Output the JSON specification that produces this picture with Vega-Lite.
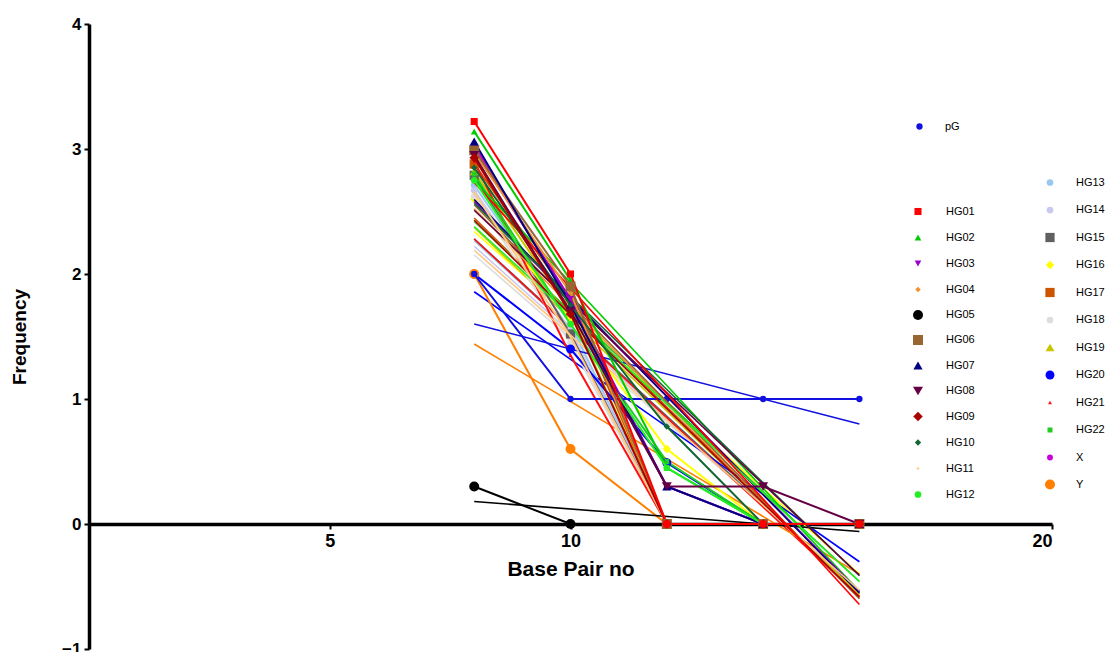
{
  "$schema": "https://vega.github.io/schema/vega-lite/v6.json",
  "width": 963,
  "height": 625,
  "autosize": "none",
  "padding": {"left": 89, "top": 24, "right": 53, "bottom": 3},
  "config": {
    "view": {"stroke": null},
    "font": "Liberation Sans",
    "legend": {"title": null, "padding": 0, "labelFontSize": 11, "labelFont": "Liberation Sans Narrow, Liberation Sans", "labelColor": "black", "labelOffset": 20}
  },
  "datasets": {
    "d": [
      {"s": "pG", "x": 8, "y": 2}, {"s": "pG", "x": 10, "y": 1}, {"s": "pG", "x": 12, "y": 1}, {"s": "pG", "x": 14, "y": 1}, {"s": "pG", "x": 16, "y": 1},
      {"s": "HG02", "x": 8, "y": 3.14}, {"s": "HG02", "x": 10, "y": 1.95}, {"s": "HG02", "x": 12, "y": 0.45}, {"s": "HG02", "x": 14, "y": 0}, {"s": "HG02", "x": 16, "y": 0},
      {"s": "HG03", "x": 8, "y": 3.0}, {"s": "HG03", "x": 10, "y": 1.8}, {"s": "HG03", "x": 12, "y": 0.3}, {"s": "HG03", "x": 14, "y": 0}, {"s": "HG03", "x": 16, "y": 0},
      {"s": "HG04", "x": 8, "y": 2.97}, {"s": "HG04", "x": 10, "y": 1.85}, {"s": "HG04", "x": 12, "y": 0}, {"s": "HG04", "x": 14, "y": 0}, {"s": "HG04", "x": 16, "y": 0},
      {"s": "HG05", "x": 8, "y": 0.3}, {"s": "HG05", "x": 10, "y": 0}, {"s": "HG05", "x": 12, "y": 0}, {"s": "HG05", "x": 14, "y": 0}, {"s": "HG05", "x": 16, "y": 0},
      {"s": "HG06", "x": 8, "y": 2.99}, {"s": "HG06", "x": 10, "y": 1.9}, {"s": "HG06", "x": 12, "y": 0}, {"s": "HG06", "x": 14, "y": 0}, {"s": "HG06", "x": 16, "y": 0},
      {"s": "HG07", "x": 8, "y": 3.06}, {"s": "HG07", "x": 10, "y": 1.75}, {"s": "HG07", "x": 12, "y": 0.3}, {"s": "HG07", "x": 14, "y": 0}, {"s": "HG07", "x": 16, "y": 0},
      {"s": "HG10", "x": 8, "y": 2.85}, {"s": "HG10", "x": 10, "y": 1.75}, {"s": "HG10", "x": 12, "y": 0.78}, {"s": "HG10", "x": 14, "y": 0}, {"s": "HG10", "x": 16, "y": 0},
      {"s": "HG11", "x": 8, "y": 2.65}, {"s": "HG11", "x": 10, "y": 1.5}, {"s": "HG11", "x": 12, "y": 0}, {"s": "HG11", "x": 14, "y": 0}, {"s": "HG11", "x": 16, "y": 0},
      {"s": "HG12", "x": 8, "y": 2.75}, {"s": "HG12", "x": 10, "y": 1.6}, {"s": "HG12", "x": 12, "y": 0.45}, {"s": "HG12", "x": 14, "y": 0}, {"s": "HG12", "x": 16, "y": 0},
      {"s": "HG13", "x": 8, "y": 2.71}, {"s": "HG13", "x": 10, "y": 1.6}, {"s": "HG13", "x": 12, "y": 0}, {"s": "HG13", "x": 14, "y": 0}, {"s": "HG13", "x": 16, "y": 0},
      {"s": "HG14", "x": 8, "y": 2.67}, {"s": "HG14", "x": 10, "y": 1.55}, {"s": "HG14", "x": 12, "y": 0}, {"s": "HG14", "x": 14, "y": 0}, {"s": "HG14", "x": 16, "y": 0},
      {"s": "HG15", "x": 8, "y": 2.79}, {"s": "HG15", "x": 10, "y": 1.52}, {"s": "HG15", "x": 12, "y": 0}, {"s": "HG15", "x": 14, "y": 0}, {"s": "HG15", "x": 16, "y": 0},
      {"s": "HG16", "x": 8, "y": 2.6}, {"s": "HG16", "x": 10, "y": 1.65}, {"s": "HG16", "x": 12, "y": 0.6}, {"s": "HG16", "x": 14, "y": 0}, {"s": "HG16", "x": 16, "y": 0},
      {"s": "HG17", "x": 8, "y": 2.88}, {"s": "HG17", "x": 10, "y": 1.8}, {"s": "HG17", "x": 12, "y": 0}, {"s": "HG17", "x": 14, "y": 0}, {"s": "HG17", "x": 16, "y": 0},
      {"s": "HG18", "x": 8, "y": 2.62}, {"s": "HG18", "x": 10, "y": 1.45}, {"s": "HG18", "x": 12, "y": 0}, {"s": "HG18", "x": 14, "y": 0}, {"s": "HG18", "x": 16, "y": 0},
      {"s": "HG19", "x": 8, "y": 2.82}, {"s": "HG19", "x": 10, "y": 1.7}, {"s": "HG19", "x": 12, "y": 0}, {"s": "HG19", "x": 14, "y": 0}, {"s": "HG19", "x": 16, "y": 0},
      {"s": "HG20", "x": 8, "y": 2.0}, {"s": "HG20", "x": 10, "y": 1.4}, {"s": "HG20", "x": 12, "y": 0.49}, {"s": "HG20", "x": 14, "y": 0}, {"s": "HG20", "x": 16, "y": 0},
      {"s": "HG21", "x": 8, "y": 2.9}, {"s": "HG21", "x": 10, "y": 1.35}, {"s": "HG21", "x": 12, "y": 0}, {"s": "HG21", "x": 14, "y": 0}, {"s": "HG21", "x": 16, "y": 0},
      {"s": "HG22", "x": 8, "y": 2.8}, {"s": "HG22", "x": 10, "y": 1.6}, {"s": "HG22", "x": 12, "y": 0.5}, {"s": "HG22", "x": 14, "y": 0}, {"s": "HG22", "x": 16, "y": 0},
      {"s": "X", "x": 8, "y": 3.03}, {"s": "X", "x": 10, "y": 1.78}, {"s": "X", "x": 12, "y": 0.3}, {"s": "X", "x": 14, "y": 0}, {"s": "X", "x": 16, "y": 0},
      {"s": "Y", "x": 8, "y": 2.0}, {"s": "Y", "x": 10, "y": 0.6}, {"s": "Y", "x": 12, "y": 0}, {"s": "Y", "x": 14, "y": 0}, {"s": "Y", "x": 16, "y": 0},
      {"s": "HG08", "x": 8, "y": 2.95}, {"s": "HG08", "x": 10, "y": 1.7}, {"s": "HG08", "x": 12, "y": 0.3}, {"s": "HG08", "x": 14, "y": 0.3}, {"s": "HG08", "x": 16, "y": 0},
      {"s": "HG09", "x": 8, "y": 2.93}, {"s": "HG09", "x": 10, "y": 1.68}, {"s": "HG09", "x": 12, "y": 0}, {"s": "HG09", "x": 14, "y": 0}, {"s": "HG09", "x": 16, "y": 0},
      {"s": "HG01", "x": 8, "y": 3.22}, {"s": "HG01", "x": 10, "y": 2.0}, {"s": "HG01", "x": 12, "y": 0}, {"s": "HG01", "x": 14, "y": 0}, {"s": "HG01", "x": 16, "y": 0}
    ]
  },
  "data": {"name": "d"},
  "encoding": {
    "x": {"field": "x", "type": "quantitative", "scale": {"domain": [0, 20], "nice": false, "zero": false}, "axis": {"values": [5, 10, 20], "title": "Base Pair no", "offset": -125, "titlePadding": 8, "titleFontWeight": "bold", "labelPadding": 3, "grid": false, "domainColor": "black", "domainWidth": 3.5, "tickColor": "black", "tickWidth": 2, "tickSize": 5, "labelFontWeight": "bold", "labelFontSize": 18, "labelColor": "black", "titleColor": "black", "titleFontSize": 21}},
    "y": {"field": "y", "type": "quantitative", "scale": {"domain": [-1, 4], "nice": false, "zero": false}, "axis": {"values": [-1, 0, 1, 2, 3, 4], "title": "Frequency", "titlePadding": 32, "titleFontWeight": "bold", "labelPadding": 3, "grid": false, "domainColor": "black", "domainWidth": 3.5, "tickColor": "black", "tickWidth": 2, "tickSize": 5, "labelFontWeight": "bold", "labelFontSize": 17, "labelColor": "black", "titleColor": "black", "titleFontSize": 19}}
  },
  "layer": [
    {
      "transform": [{"filter": {"field": "s", "oneOf": ["HG13", "HG14", "HG15", "HG16", "HG17", "HG18", "HG19", "HG20", "HG21", "HG22", "X", "Y"]}}],
      "layer": [
        {"transform": [{"regression": "y", "on": "x", "groupby": ["s"], "extent": [8, 16]}], "mark": {"type": "line", "strokeWidth": 1.6, "clip": true}, "encoding": {"stroke": {"field": "s", "type": "nominal", "scale": {"domain": ["HG13", "HG14", "HG15", "HG16", "HG17", "HG18", "HG19", "HG20", "HG21", "HG22", "X", "Y", "none"], "range": ["#99c8ee", "#c8c8f0", "#606060", "#ffff00", "#cc5500", "#dddddd", "#c8c800", "#0000ff", "#ff1010", "#22cc22", "#cc00dd", "#ff8000", "#000000"]}, "legend": null}}},
        {"mark": {"type": "line", "strokeWidth": 2, "clip": true}, "encoding": {"stroke": {"field": "s", "type": "nominal", "scale": {"domain": ["HG13", "HG14", "HG15", "HG16", "HG17", "HG18", "HG19", "HG20", "HG21", "HG22", "X", "Y", "none"], "range": ["#99c8ee", "#c8c8f0", "#606060", "#ffff00", "#cc5500", "#dddddd", "#c8c800", "#0000ff", "#ff1010", "#22cc22", "#cc00dd", "#ff8000", "#000000"]}, "legend": null}}},
        {"mark": {"type": "point", "filled": true, "opacity": 1}, "encoding": {
          "color": {"field": "s", "type": "nominal", "scale": {"domain": ["HG13", "HG14", "HG15", "HG16", "HG17", "HG18", "HG19", "HG20", "HG21", "HG22", "X", "Y"], "range": ["#99c8ee", "#c8c8f0", "#606060", "#ffff00", "#cc5500", "#dddddd", "#c8c800", "#0000ff", "#ff1010", "#22cc22", "#cc00dd", "#ff8000"]}, "legend": {"orient": "none", "legendX": 955, "legendY": 153, "rowPadding": 15.5}},
          "shape": {"field": "s", "type": "nominal", "scale": {"domain": ["HG13", "HG14", "HG15", "HG16", "HG17", "HG18", "HG19", "HG20", "HG21", "HG22", "X", "Y"], "range": ["circle", "circle", "square", "diamond", "square", "circle", "triangle-up", "circle", "triangle-up", "square", "circle", "circle"]}, "legend": {"orient": "none", "legendX": 955, "legendY": 153, "rowPadding": 15.5}},
          "size": {"field": "s", "type": "nominal", "scale": {"type": "ordinal", "domain": ["HG13", "HG14", "HG15", "HG16", "HG17", "HG18", "HG19", "HG20", "HG21", "HG22", "X", "Y"], "range": [45, 45, 85, 70, 85, 45, 80, 80, 15, 25, 35, 100]}, "legend": {"orient": "none", "legendX": 955, "legendY": 153, "rowPadding": 15.5}}
        }}
      ]
    },
    {
      "transform": [{"filter": {"field": "s", "oneOf": ["pG"]}}],
      "layer": [
        {"mark": {"type": "line", "strokeWidth": 2, "clip": true}, "encoding": {"stroke": {"field": "s", "type": "nominal", "scale": {"domain": ["pG", "none"], "range": ["#1010e0", "#000000"]}, "legend": null}}},
        {"transform": [{"regression": "y", "on": "x", "groupby": ["s"], "extent": [8, 16]}], "mark": {"type": "line", "strokeWidth": 1.6, "clip": true}, "encoding": {"stroke": {"field": "s", "type": "nominal", "scale": {"domain": ["pG", "none"], "range": ["#1010e0", "#000000"]}, "legend": null}}},
        {"mark": {"type": "point", "filled": true, "opacity": 1}, "encoding": {
          "color": {"field": "s", "type": "nominal", "scale": {"domain": ["pG"], "range": ["#1010e0"]}, "legend": {"orient": "none", "legendX": 825, "legendY": 97}},
          "shape": {"field": "s", "type": "nominal", "scale": {"domain": ["pG"], "range": ["circle"]}, "legend": {"orient": "none", "legendX": 825, "legendY": 97}},
          "size": {"field": "s", "type": "nominal", "scale": {"type": "ordinal", "domain": ["pG"], "range": [40]}, "legend": {"orient": "none", "legendX": 825, "legendY": 97}}
        }}
      ]
    },
    {
      "transform": [{"filter": {"field": "s", "oneOf": ["HG01", "HG02", "HG03", "HG04", "HG05", "HG06", "HG07", "HG08", "HG09", "HG10", "HG11", "HG12"]}}],
      "layer": [
        {"transform": [{"regression": "y", "on": "x", "groupby": ["s"], "extent": [8, 16]}], "mark": {"type": "line", "strokeWidth": 1.6, "clip": true}, "encoding": {"stroke": {"field": "s", "type": "nominal", "scale": {"domain": ["HG01", "HG02", "HG03", "HG04", "HG05", "HG06", "HG07", "HG08", "HG09", "HG10", "HG11", "HG12", "none"], "range": ["#ff0000", "#00cc00", "#9900cc", "#f09030", "#000000", "#996633", "#000080", "#660044", "#aa0000", "#116633", "#ffc880", "#22ee22", "#000000"]}, "legend": null}}},
        {"mark": {"type": "line", "strokeWidth": 2, "clip": true}, "encoding": {"stroke": {"field": "s", "type": "nominal", "scale": {"domain": ["HG01", "HG02", "HG03", "HG04", "HG05", "HG06", "HG07", "HG08", "HG09", "HG10", "HG11", "HG12", "none"], "range": ["#ff0000", "#00cc00", "#9900cc", "#f09030", "#000000", "#996633", "#000080", "#660044", "#aa0000", "#116633", "#ffc880", "#22ee22", "#000000"]}, "legend": null}}},
        {"mark": {"type": "point", "filled": true, "opacity": 1}, "encoding": {
          "color": {"field": "s", "type": "nominal", "scale": {"domain": ["HG01", "HG02", "HG03", "HG04", "HG05", "HG06", "HG07", "HG08", "HG09", "HG10", "HG11", "HG12"], "range": ["#ff0000", "#00cc00", "#9900cc", "#f09030", "#000000", "#996633", "#000080", "#660044", "#aa0000", "#116633", "#ffc880", "#22ee22"]}, "legend": {"orient": "none", "legendX": 823, "legendY": 182, "rowPadding": 14, "labelOffset": 22}},
          "shape": {"field": "s", "type": "nominal", "scale": {"domain": ["HG01", "HG02", "HG03", "HG04", "HG05", "HG06", "HG07", "HG08", "HG09", "HG10", "HG11", "HG12"], "range": ["square", "triangle-up", "triangle-down", "diamond", "circle", "square", "triangle-up", "triangle-down", "diamond", "diamond", "diamond", "circle"]}, "legend": {"orient": "none", "legendX": 823, "legendY": 182, "rowPadding": 14, "labelOffset": 22}},
          "size": {"field": "s", "type": "nominal", "scale": {"type": "ordinal", "domain": ["HG01", "HG02", "HG03", "HG04", "HG05", "HG06", "HG07", "HG08", "HG09", "HG10", "HG11", "HG12"], "range": [50, 45, 45, 30, 100, 100, 85, 100, 90, 40, 10, 45]}, "legend": {"orient": "none", "legendX": 823, "legendY": 182, "rowPadding": 14, "labelOffset": 22}}
        }}
      ]
    }
  ],
  "resolve": {"scale": {"color": "independent", "shape": "independent", "stroke": "independent", "size": "independent"}, "legend": {"color": "independent", "shape": "independent", "stroke": "independent", "size": "independent"}}
}
